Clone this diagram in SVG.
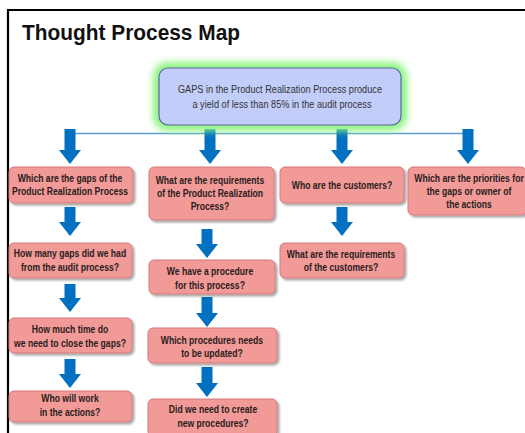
<svg xmlns="http://www.w3.org/2000/svg" width="525" height="433" viewBox="0 0 525 433">
<defs>
<style>
.q rect{fill:#F19A98;stroke:#D27A7A;stroke-width:1;filter:url(#sh)}
.q text{font-family:"Liberation Sans",Arial,sans-serif;font-weight:bold;font-size:10.5px;fill:#2a1c1c;text-anchor:middle}
.arr{fill:#0070C0}
.main text{font-family:"Liberation Sans",Arial,sans-serif;font-size:11.2px;fill:#333;text-anchor:middle}
</style>
<filter id="sh" x="-10%" y="-20%" width="125%" height="150%">
<feGaussianBlur in="SourceAlpha" stdDeviation="1"/>
<feOffset dx="1.5" dy="1.5" result="o"/>
<feFlood flood-color="#000" flood-opacity="0.35"/>
<feComposite in2="o" operator="in"/>
<feMerge><feMergeNode/><feMergeNode in="SourceGraphic"/></feMerge>
</filter>
<filter id="glow" x="-20%" y="-50%" width="140%" height="200%">
<feGaussianBlur stdDeviation="3.5"/>
</filter>
</defs>
<rect width="525" height="433" fill="#fff"/>
<path d="M8,433 V10 H525" fill="none" stroke="#000" stroke-width="2.2"/>
<text x="22" y="40" font-family="Liberation Sans,Arial,sans-serif" font-weight="bold" font-size="22" textLength="218" lengthAdjust="spacingAndGlyphs" fill="#111">Thought Process Map</text>

<g id="connectors">
<path d="M70,133.5 H468" stroke="#5B9BD5" stroke-width="1.5" fill="none"/>
<path class="arr" d="M64.5,129 H75.5 V150 H81 L70,164 L59,150 H64.5 Z"/>
<path class="arr" d="M204.5,129 H215.5 V150 H221 L210,164 L199,150 H204.5 Z"/>
<path class="arr" d="M336.5,129 H347.5 V150 H353 L342,164 L331,150 H336.5 Z"/>
<path class="arr" d="M462.5,129 H473.5 V150 H479 L468,164 L457,150 H462.5 Z"/>
<path class="arr" d="M64.5,207 H75.5 V222 H81 L70,236 L59,222 H64.5 Z"/>
<path class="arr" d="M64.5,284 H75.5 V298 H81 L70,312 L59,298 H64.5 Z"/>
<path class="arr" d="M64.5,359 H75.5 V374 H81 L70,388 L59,374 H64.5 Z"/>
<path class="arr" d="M201.5,229 H212.5 V244 H218 L207,258 L196,244 H201.5 Z"/>
<path class="arr" d="M201.5,297 H212.5 V313 H218 L207,327 L196,313 H201.5 Z"/>
<path class="arr" d="M201.5,367 H212.5 V383 H218 L207,397 L196,383 H201.5 Z"/>
<path class="arr" d="M336.5,207 H347.5 V222 H353 L342,236 L331,222 H336.5 Z"/>
</g>

<g id="main" class="main">
<rect x="159" y="68" width="242" height="57" rx="9" fill="none" stroke="#8CF57E" stroke-width="12" filter="url(#glow)"/>
<rect x="159" y="68" width="242" height="57" rx="9" fill="#C3CDFA" stroke="#5A67A8" stroke-width="1.2"/>
<text transform="translate(280 93) scale(.82 1)">GAPS in the Product Realization Process produce</text>
<text transform="translate(282 108) scale(.82 1)">a yield of less than  85% in the audit process</text>
</g>

<g id="q1" class="q"><rect x="9" y="167" width="124" height="36" rx="5"/>
<text transform="translate(70 181.5) scale(.82 1)">Which are the gaps of the</text><text transform="translate(70 194.5) scale(.82 1)">Product Realization Process</text></g>
<g id="q2" class="q"><rect x="149" y="167" width="125" height="53" rx="5"/>
<text transform="translate(210 183.5) scale(.82 1)">What are the requirements</text><text transform="translate(210 196.5) scale(.82 1)">of the Product Realization</text><text transform="translate(210 210) scale(.82 1)">Process?</text></g>
<g id="q3" class="q"><rect x="280" y="167" width="124" height="36" rx="5"/>
<text transform="translate(342 188.5) scale(.82 1)">Who are the customers?</text></g>
<g id="q4" class="q"><rect x="408" y="167" width="118" height="48" rx="5"/>
<text transform="translate(469 181.5) scale(.82 1)">Which are the priorities for</text><text transform="translate(469 194.5) scale(.82 1)">the gaps or owner of</text><text transform="translate(469 207.5) scale(.82 1)">the actions</text></g>
<g id="q5" class="q"><rect x="9" y="243" width="123" height="35" rx="5"/>
<text transform="translate(70 256.5) scale(.82 1)">How many gaps did we had</text><text transform="translate(70 270.5) scale(.82 1)">from the audit process?</text></g>
<g id="q6" class="q"><rect x="149" y="260" width="126" height="34" rx="5"/>
<text transform="translate(210 274.5) scale(.82 1)">We have a procedure</text><text transform="translate(210 288.5) scale(.82 1)">for this process?</text></g>
<g id="q7" class="q"><rect x="280" y="243" width="124" height="35" rx="5"/>
<text transform="translate(341 257.5) scale(.82 1)">What are the requirements</text><text transform="translate(341 270.5) scale(.82 1)">of the customers?</text></g>
<g id="q8" class="q"><rect x="9" y="318" width="123" height="35" rx="5"/>
<text transform="translate(70 332.5) scale(.82 1)">How much time do</text><text transform="translate(70 346.5) scale(.82 1)">we need to close the gaps?</text></g>
<g id="q9" class="q"><rect x="148" y="328" width="129" height="35" rx="5"/>
<text transform="translate(212 343.5) scale(.82 1)">Which procedures needs</text><text transform="translate(212 356.5) scale(.82 1)">to be updated?</text></g>
<g id="q10" class="q"><rect x="9" y="391" width="123" height="31" rx="5"/>
<text transform="translate(70 401.5) scale(.82 1)">Who will work</text><text transform="translate(70 415.5) scale(.82 1)">in the actions?</text></g>
<g id="q11" class="q"><rect x="148" y="399" width="129" height="37" rx="5"/>
<text transform="translate(213 412.5) scale(.82 1)">Did we need to create</text><text transform="translate(213 426.5) scale(.82 1)">new procedures?</text></g>
</svg>
